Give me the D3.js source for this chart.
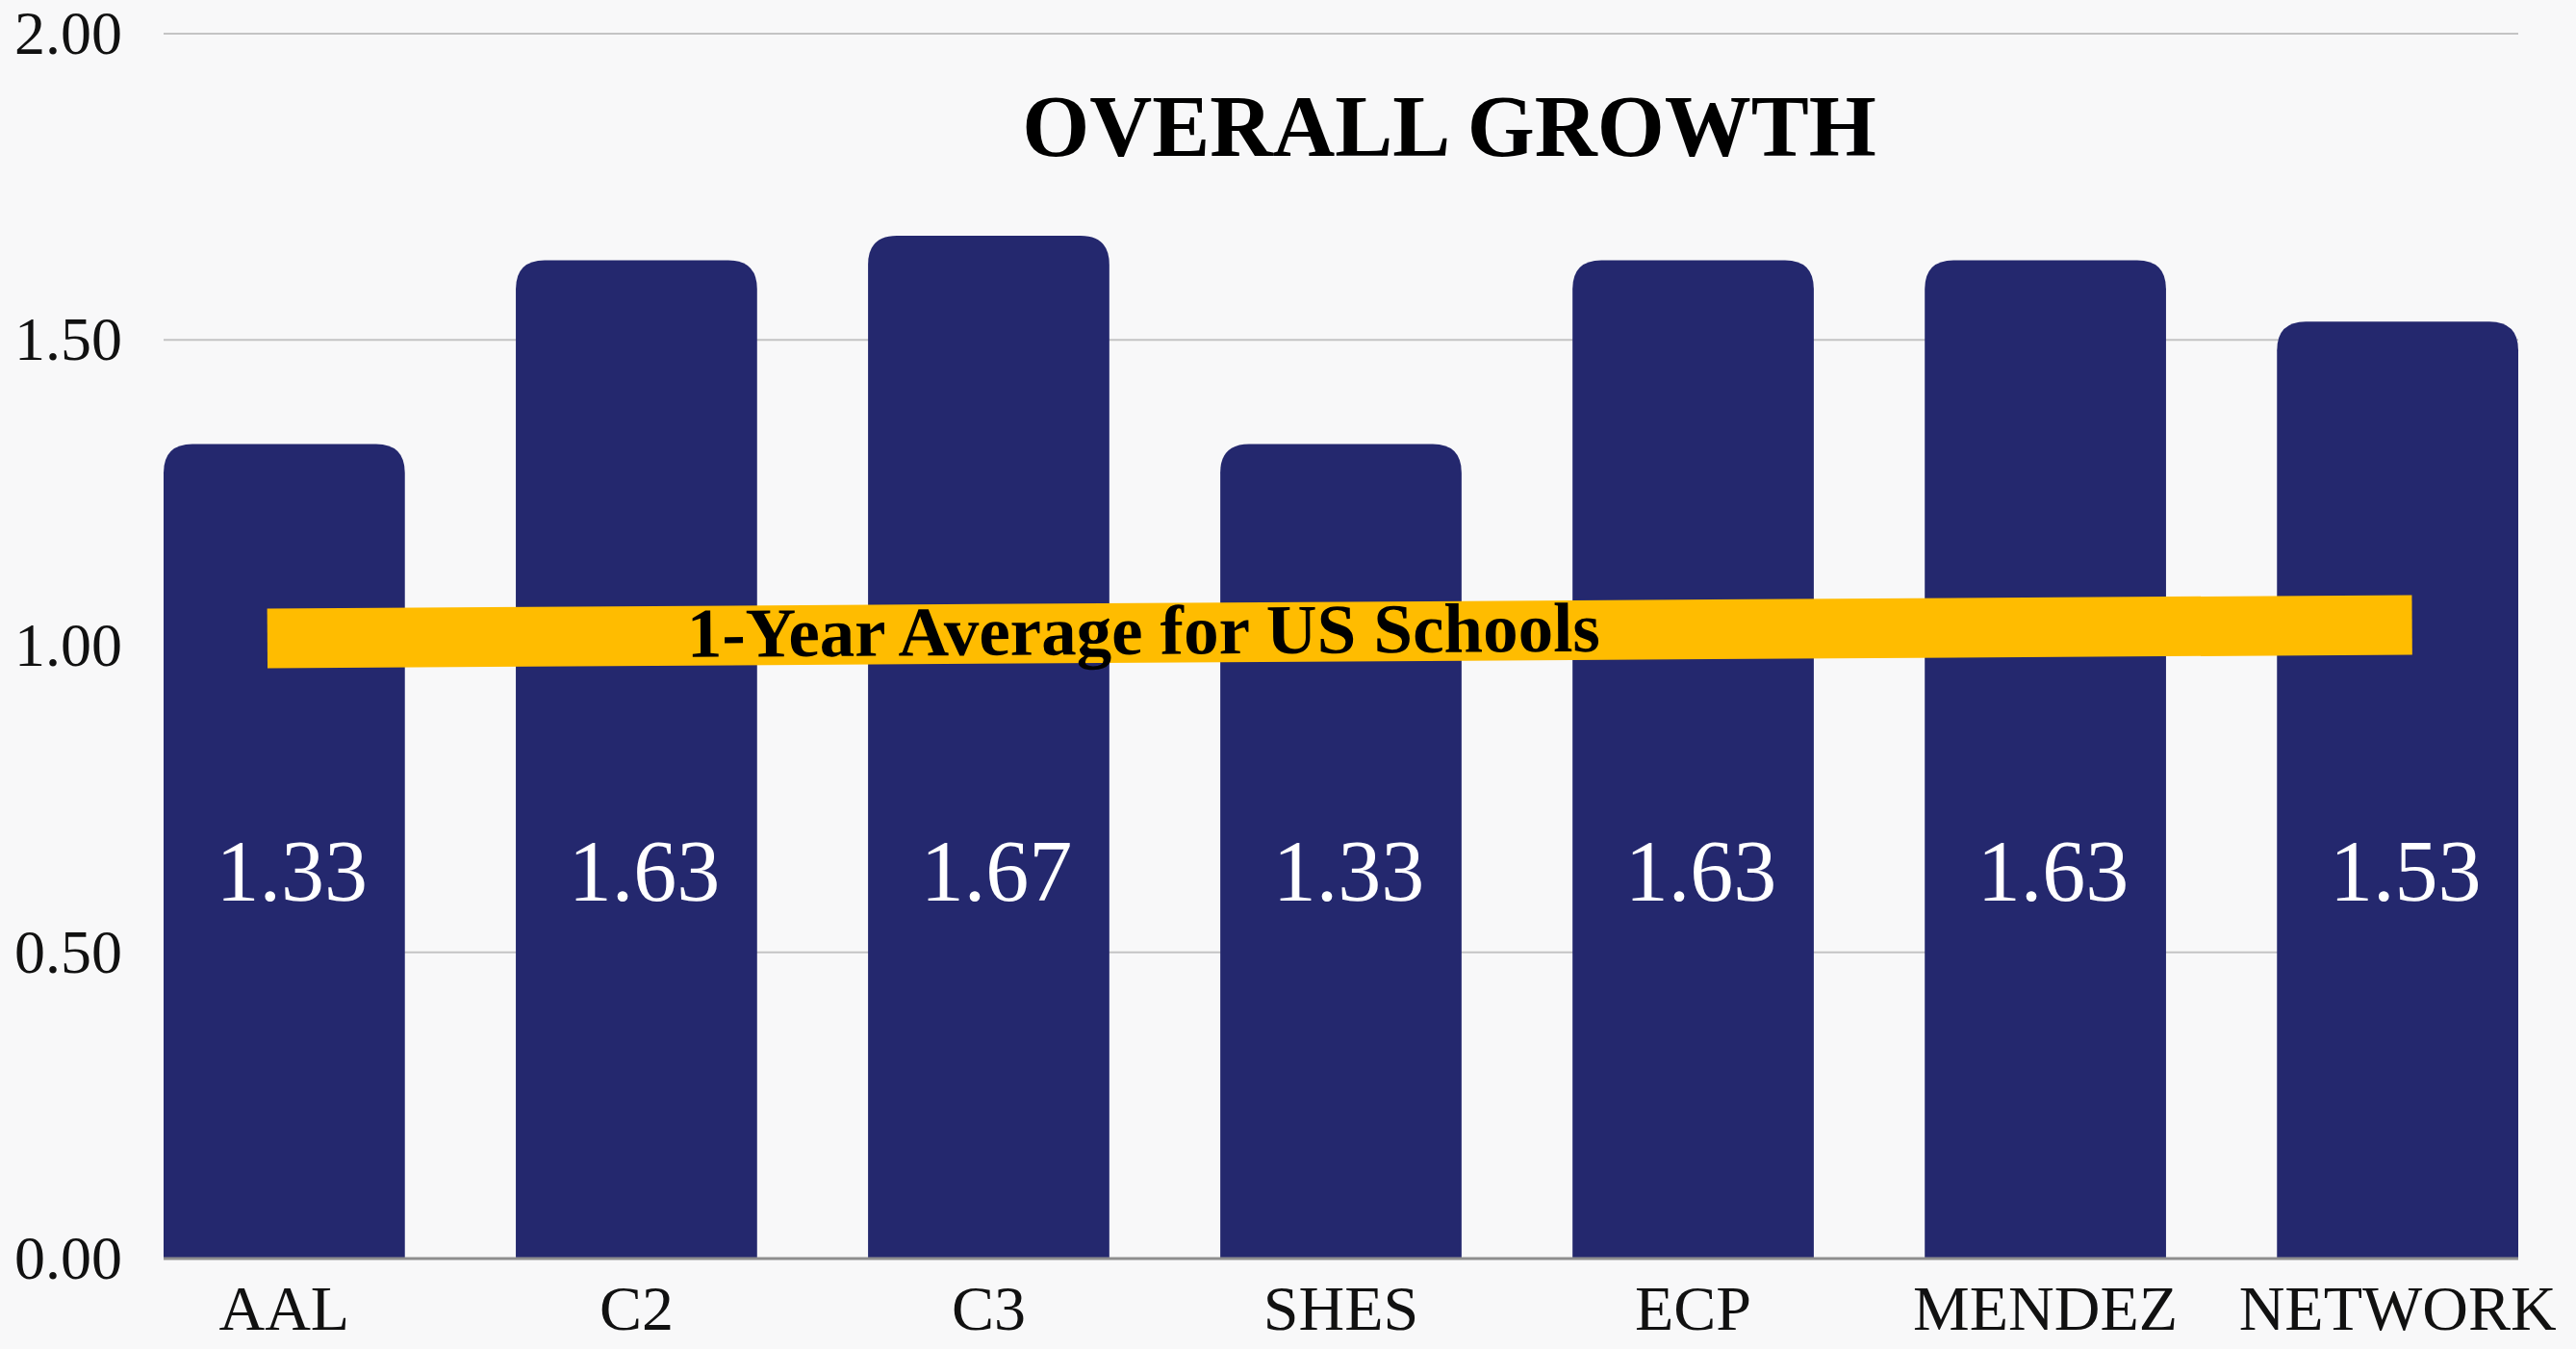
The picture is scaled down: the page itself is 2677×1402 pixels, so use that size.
<!DOCTYPE html>
<html lang="en">
<head>
    <meta charset="UTF-8">
    <title>Overall Growth</title>
    <script src="https://d3js.org/d3.v7.min.js"></script>
    <style>
        body {
            margin: 0;
            padding: 0;
            background: #f8f8f9;
        }
        svg text {
            font-family: "Liberation Serif", "DejaVu Serif", serif;
        }
    </style>
</head>
<body>
    <svg width="2677" height="1402"></svg>
    <script>
        // Chart data
        const categories = ["AAL", "C2", "C3", "SHES", "ECP", "MENDEZ", "NETWORK"];
        const growth = [1.33, 1.63, 1.67, 1.33, 1.63, 1.63, 1.53];
        const yTicks = [0, 0.5, 1, 1.5, 2];
        const usAverage = 1.0;
        const title = "OVERALL GROWTH";
        const averageLabel = "1-Year Average for US Schools";

        const svg = d3.select("svg"),
            width = +svg.attr("width"),
            height = +svg.attr("height");

        svg.append("rect")
            .attr("width", width)
            .attr("height", height)
            .attr("fill", "#f8f8f9");

        const x = d3.scaleBand()
            .domain(categories)
            .range([170, 2617])
            .paddingInner(0.315)
            .paddingOuter(0);

        const y = d3.scaleLinear()
            .domain([0, 2])
            .range([1308, 35]);

        // Gridlines
        svg.append("g")
            .selectAll("line")
            .data(yTicks.filter(d => d > 0))
            .join("line")
            .attr("x1", x.range()[0])
            .attr("x2", x.range()[1])
            .attr("y1", d => y(d))
            .attr("y2", d => y(d))
            .attr("stroke", "#c4c4c4")
            .attr("stroke-width", 2);

        // Bars with rounded tops
        const r = 30;
        const bw = x.bandwidth();
        svg.append("g")
            .selectAll("path")
            .data(categories.map((c, i) => ({ c, v: growth[i] })))
            .join("path")
            .attr("fill", "#24286e")
            .attr("d", d => {
                const x0 = x(d.c), x1 = x0 + bw, top = y(d.v), base = y(0);
                return `M${x0},${base} L${x0},${top + r} Q${x0},${top} ${x0 + r},${top}
                        L${x1 - r},${top} Q${x1},${top} ${x1},${top + r} L${x1},${base} Z`;
            });

        // Baseline
        svg.append("line")
            .attr("x1", x.range()[0])
            .attr("x2", x.range()[1])
            .attr("y1", y(0))
            .attr("y2", y(0))
            .attr("stroke", "#8e8e8e")
            .attr("stroke-width", 3);

        // Y axis
        const yAxis = svg.append("g")
            .attr("transform", `translate(${x.range()[0]},0)`)
            .call(d3.axisLeft(y).tickValues(yTicks).tickFormat(d3.format(".2f")).tickSize(0).tickPadding(43));
        yAxis.select(".domain").remove();
        yAxis.selectAll("text")
            .attr("font-size", 64)
            .attr("font-family", "Liberation Serif, serif")
            .attr("fill", "#111");

        // X axis
        const xAxis = svg.append("g")
            .attr("transform", `translate(0,${y(0)})`)
            .call(d3.axisBottom(x).tickSize(0).tickPadding(27));
        xAxis.select(".domain").remove();
        xAxis.selectAll("text")
            .attr("font-size", 66)
            .attr("font-family", "Liberation Serif, serif")
            .attr("fill", "#111");

        // Value labels inside bars
        svg.append("g")
            .selectAll("text")
            .data(categories.map((c, i) => ({ c, v: growth[i] })))
            .join("text")
            .attr("x", d => x(d.c) + bw / 2 + 8)
            .attr("y", y(0.585))
            .attr("text-anchor", "middle")
            .attr("font-size", 90)
            .attr("fill", "#ffffff")
            .text(d => d3.format(".2f")(d.v));

        // US average band (slightly tilted highlighter)
        const bandLeft = x(categories[0]) + bw * 0.43;
        const bandRight = x(categories[categories.length - 1]) + bw * 0.56;
        const bandY = y(usAverage) - 8;
        const band = svg.append("g")
            .attr("transform", `translate(${bandLeft},${bandY}) rotate(-0.36)`);
        band.append("rect")
            .attr("x", 0)
            .attr("y", -31)
            .attr("width", bandRight - bandLeft)
            .attr("height", 62)
            .attr("fill", "#ffbc00");
        band.append("text")
            .attr("x", 436)
            .attr("y", 22)
            .attr("font-size", 73)
            .attr("font-weight", "bold")
            .attr("fill", "#000")
            .text(averageLabel);

        // Title
        svg.append("text")
            .attr("x", 1506)
            .attr("y", 162)
            .attr("text-anchor", "middle")
            .attr("font-size", 90)
            .attr("font-weight", "bold")
            .attr("fill", "#000")
            .text(title);
    </script>
</body>
</html>
